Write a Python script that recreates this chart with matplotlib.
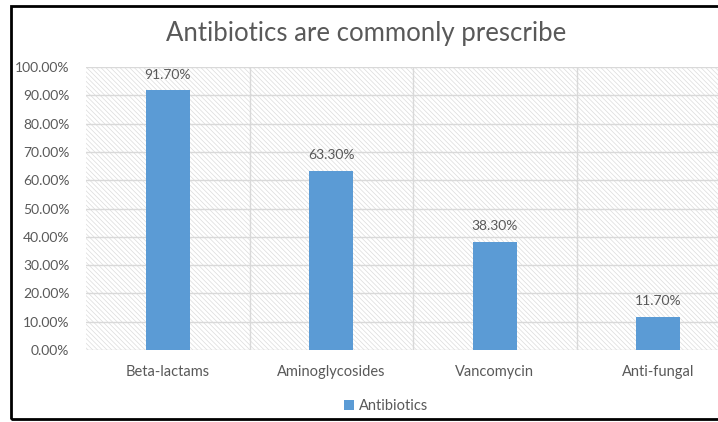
import numpy as np
import matplotlib
matplotlib.use("Agg")
from matplotlib import pyplot as plt
from matplotlib.patches import Rectangle

categories = ["Beta-lactams", "Aminoglycosides", "Vancomycin", "Anti-fungal"]
values = [91.7, 63.3, 38.3, 11.7]
yticks = [0, 10, 20, 30, 40, 50, 60, 70, 80, 90, 100]

plt.rcParams['font.family'] = ['Lato', 'DejaVu Sans']
plt.rcParams['hatch.linewidth'] = 0.5
GRAY = "#595959"
GRID = "#d9d9d9"
BLUE = "#5b9bd5"

fig = plt.figure(figsize=(7.18, 4.22), dpi=100)
ax = fig.add_axes([86/718, 1-350/422, 654/718, 283/422])

x = np.arange(len(categories))
ax.set_xlim(-0.5, len(categories) - 0.5)
ax.set_ylim(0, 100)

# hatched plot background
bg = Rectangle((0, 0), 1, 1, transform=ax.transAxes, facecolor="white",
               edgecolor="#dcdcdc", hatch="\\" * 7, linewidth=0, zorder=0)
ax.add_patch(bg)

for yv in yticks:
    ax.axhline(yv, color=GRID, linewidth=1.0, zorder=1)
for xv in np.arange(0.5, len(categories) - 0.5, 1):
    ax.axvline(xv, color=GRID, linewidth=1.0, zorder=1)

bars = ax.bar(x, values, width=0.27, color=BLUE, zorder=3, label="Antibiotics")
for xi, v in zip(x, values):
    ax.annotate("{:.2f}%".format(v), (xi, v), xytext=(0, 7), textcoords="offset points",
                ha="center", va="bottom", fontsize=10, color=GRAY)

ax.set_xticks(x)
ax.set_xticklabels(categories, fontsize=10.5, color=GRAY)
ax.set_yticks(yticks)
ax.set_yticklabels(["{:.2f}%".format(v) for v in yticks], fontsize=10, color=GRAY)
ax.tick_params(length=0, pad=12)
ax.tick_params(axis="x", pad=11)
for s in ax.spines.values():
    s.set_visible(False)

fig.text(366/718, 1-33/422, "Antibiotics are commonly prescribe", ha="center", va="center",
         fontsize=18.5, color=GRAY)

fig.legend(handles=[bars], labels=["Antibiotics"], loc="center", bbox_to_anchor=(386/718, 1-406/422),
           frameon=False, fontsize=10.5, labelcolor=GRAY, handlelength=0.7, handleheight=0.7,
           handletextpad=0.3)

# outer border of the chart
fig.add_artist(Rectangle((11/718, 1-419/422), 1.2, 413/422, transform=fig.transFigure,
                         fill=False, edgecolor="black", linewidth=2))

fig.savefig("out.png", dpi=100)
